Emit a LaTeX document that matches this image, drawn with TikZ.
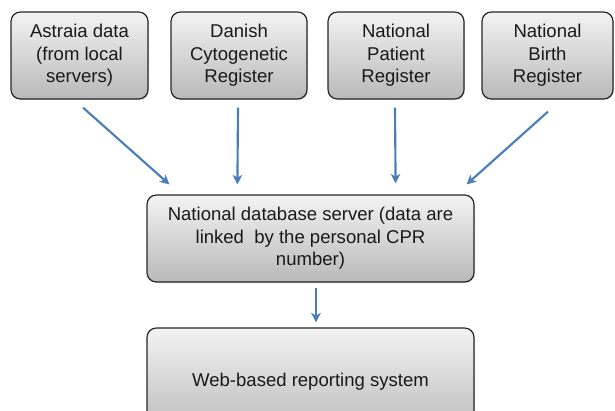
\documentclass[tikz,border=0pt]{standalone}
\usepackage{fontspec}
\setmainfont{Liberation Sans}
\usetikzlibrary{arrows.meta,shadows}

\definecolor{arrowblue}{HTML}{4A7EBB}
\definecolor{boxtop}{HTML}{F3F3F3}
\definecolor{boxbottom}{HTML}{B9B9B9}

\tikzset{
  box/.style={draw=black!85, line width=0.9pt, rounded corners=7pt,
    top color=boxtop, bottom color=boxbottom,
    drop shadow={shadow xshift=0.8pt, shadow yshift=-0.8pt, opacity=0.25},
    align=center, minimum height=65.25pt, inner sep=2pt,
    font=\fontsize{13.9}{17}\selectfont, text=black!90},
  flow/.style={draw=arrowblue, line width=1.6pt,
    -{Stealth[length=7pt, width=7pt, inset=1.8pt]}}
}

\begin{document}
\begin{tikzpicture}[x=0.75pt, y=-0.75pt]
    % page
    \clip (0, 0) rectangle (615, 411);

    % data sources
    \foreach \name/\x/\w/\txt in {
        astraia/79.5/102.75pt/{Astraia data\\(from local\\servers)},
        cytogen/239/102pt/{Danish\\Cytogenetic\\Register},
        patient/396/102pt/{National\\Patient\\Register},
        birth/547.5/98.25pt/{National\\Birth\\Register}} {
      \node [box, minimum width=\w] (\name) at (\x, 55.5) {\txt};
    }

    % database server
    \node [box, minimum width=245.25pt] (server) at (310.5, 238.5)
      {National database server (data are\\linked\ \ by the personal CPR\\number)};

    % reporting
    \node [box, minimum width=245.25pt, minimum height=81pt] (web) at (310.5, 382)
      {Web-based reporting system};

    % arrows
    \draw [flow] ([shift={(3.5, 8)}]astraia.south) -- ([shift={(23, -10)}]server.north west);
    \draw [flow] ([shift={(-1, 8)}]cytogen.south) -- ([shift={(91, -10)}]server.north west);
    \draw [flow] ([shift={(-1, 8)}]patient.south) -- ([shift={(-79, -11)}]server.north east);
    \draw [flow] ([shift={(0.5, 12)}]birth.south) -- ([shift={(-8, -10)}]server.north east);
    \draw [flow] ([shift={(5.5, 5)}]server.south) -- ([shift={(5.5, -5)}]web.north);
  \end{tikzpicture}
\end{document}
